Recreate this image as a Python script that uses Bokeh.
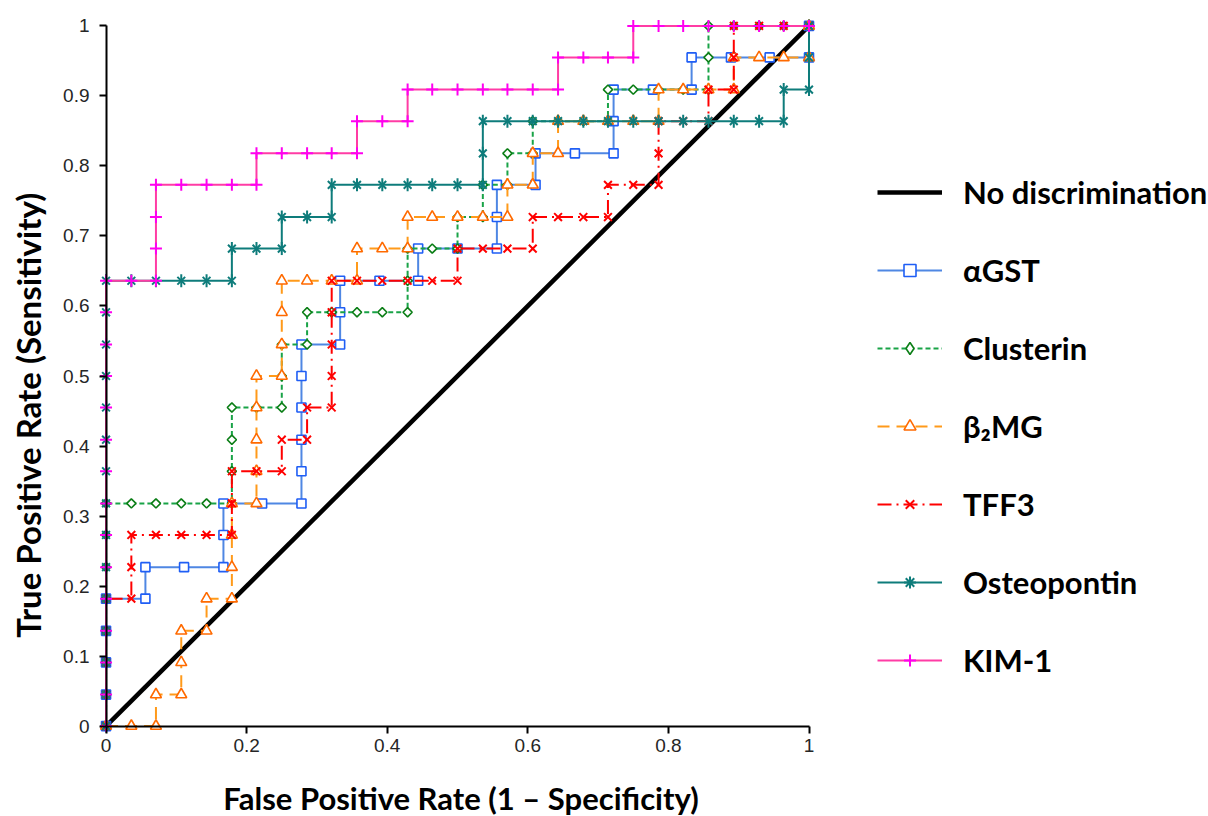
import math
from bokeh.plotting import figure
from bokeh.models import Range1d, FixedTicker, Label, Legend, LegendItem, LinearAxis
from bokeh.embed import file_html
from bokeh.resources import INLINE

# ---------------- data ----------------
diag_x = [0, 1]
diag_y = [0, 1]

agst_fpr = [0, 0, 0, 0, 0, 0.056, 0.056, 0.111, 0.167, 0.167, 0.167, 0.222, 0.278,
            0.278, 0.278, 0.278, 0.278, 0.278, 0.333, 0.333, 0.333, 0.389, 0.444,
            0.444, 0.5, 0.556, 0.556, 0.556, 0.611, 0.611, 0.667, 0.722, 0.722, 0.722,
            0.778, 0.833, 0.833, 0.889, 0.944, 1, 1]
agst_tpr = [0, 0.045, 0.091, 0.136, 0.182, 0.182, 0.227, 0.227, 0.227, 0.273, 0.318,
            0.318, 0.318, 0.364, 0.409, 0.455, 0.5, 0.545, 0.545, 0.591, 0.636, 0.636,
            0.636, 0.682, 0.682, 0.682, 0.727, 0.773, 0.773, 0.818, 0.818, 0.818, 0.864,
            0.909, 0.909, 0.909, 0.955, 0.955, 0.955, 0.955, 1]

clus_fpr = [0, 0, 0, 0, 0, 0, 0, 0, 0.036, 0.071, 0.107, 0.143, 0.179, 0.179, 0.179,
            0.179, 0.214, 0.25, 0.25, 0.25, 0.286, 0.286, 0.321, 0.357, 0.393, 0.429,
            0.429, 0.429, 0.464, 0.5, 0.5, 0.536, 0.536, 0.571, 0.571, 0.607, 0.607,
            0.643, 0.679, 0.714, 0.714, 0.75, 0.786, 0.821, 0.857, 0.857, 0.857, 0.893,
            0.929, 0.964, 1]
clus_tpr = [0, 0.045, 0.091, 0.136, 0.182, 0.227, 0.273, 0.318, 0.318, 0.318, 0.318,
            0.318, 0.318, 0.364, 0.409, 0.455, 0.455, 0.455, 0.5, 0.545, 0.545, 0.591,
            0.591, 0.591, 0.591, 0.591, 0.636, 0.682, 0.682, 0.682, 0.727, 0.727, 0.773,
            0.773, 0.818, 0.818, 0.864, 0.864, 0.864, 0.864, 0.909, 0.909, 0.909, 0.909,
            0.909, 0.955, 1, 1, 1, 1, 1]

b2mg_fpr = [0, 0.036, 0.071, 0.071, 0.107, 0.107, 0.107, 0.143, 0.143, 0.179, 0.179,
            0.179, 0.179, 0.214, 0.214, 0.214, 0.214, 0.214, 0.25, 0.25, 0.25, 0.25,
            0.286, 0.321, 0.357, 0.357, 0.393, 0.429, 0.429, 0.464, 0.5, 0.536, 0.571,
            0.571, 0.607, 0.607, 0.643, 0.643, 0.679, 0.714, 0.75, 0.786, 0.786, 0.821,
            0.857, 0.893, 0.893, 0.929, 0.964, 1, 1]
b2mg_tpr = [0, 0, 0, 0.045, 0.045, 0.091, 0.136, 0.136, 0.182, 0.182, 0.227, 0.273,
            0.318, 0.318, 0.364, 0.409, 0.455, 0.5, 0.5, 0.545, 0.591, 0.636, 0.636,
            0.636, 0.636, 0.682, 0.682, 0.682, 0.727, 0.727, 0.727, 0.727, 0.727, 0.773,
            0.773, 0.818, 0.818, 0.864, 0.864, 0.864, 0.864, 0.864, 0.909, 0.909, 0.909,
            0.909, 0.955, 0.955, 0.955, 0.955, 1]

tff3_fpr = [0, 0, 0, 0, 0, 0.036, 0.036, 0.036, 0.071, 0.107, 0.143, 0.179, 0.179,
            0.179, 0.214, 0.25, 0.25, 0.286, 0.286, 0.321, 0.321, 0.321, 0.321, 0.321,
            0.357, 0.393, 0.429, 0.464, 0.5, 0.5, 0.536, 0.571, 0.607, 0.607, 0.643,
            0.679, 0.714, 0.714, 0.75, 0.786, 0.786, 0.786, 0.821, 0.857, 0.857, 0.893,
            0.893, 0.893, 0.929, 0.964, 1]
tff3_tpr = [0, 0.045, 0.091, 0.136, 0.182, 0.182, 0.227, 0.273, 0.273, 0.273, 0.273,
            0.273, 0.318, 0.364, 0.364, 0.364, 0.409, 0.409, 0.455, 0.455, 0.5, 0.545,
            0.591, 0.636, 0.636, 0.636, 0.636, 0.636, 0.636, 0.682, 0.682, 0.682, 0.682,
            0.727, 0.727, 0.727, 0.727, 0.773, 0.773, 0.773, 0.818, 0.864, 0.864, 0.864,
            0.909, 0.909, 0.955, 1, 1, 1, 1]

opn_fpr = [0, 0, 0, 0, 0, 0, 0, 0, 0, 0, 0, 0, 0, 0, 0, 0.036, 0.071, 0.107, 0.143,
           0.179, 0.179, 0.214, 0.25, 0.25, 0.286, 0.321, 0.321, 0.357, 0.393, 0.429,
           0.464, 0.5, 0.536, 0.536, 0.536, 0.571, 0.607, 0.643, 0.679, 0.714, 0.75,
           0.786, 0.821, 0.857, 0.893, 0.929, 0.964, 0.964, 1, 1, 1]
opn_tpr = [0, 0.045, 0.091, 0.136, 0.182, 0.227, 0.273, 0.318, 0.364, 0.409, 0.455,
           0.5, 0.545, 0.591, 0.636, 0.636, 0.636, 0.636, 0.636, 0.636, 0.682, 0.682,
           0.682, 0.727, 0.727, 0.727, 0.773, 0.773, 0.773, 0.773, 0.773, 0.773, 0.773,
           0.818, 0.864, 0.864, 0.864, 0.864, 0.864, 0.864, 0.864, 0.864, 0.864, 0.864,
           0.864, 0.864, 0.864, 0.909, 0.909, 0.955, 1]

kim_fpr = [0, 0, 0, 0, 0, 0, 0, 0, 0, 0, 0, 0, 0, 0, 0, 0.036, 0.071, 0.071, 0.071,
           0.071, 0.107, 0.143, 0.179, 0.214, 0.214, 0.25, 0.286, 0.321, 0.357, 0.357,
           0.393, 0.429, 0.429, 0.464, 0.5, 0.536, 0.571, 0.607, 0.643, 0.643, 0.679,
           0.714, 0.75, 0.75, 0.786, 0.821, 0.857, 0.893, 0.929, 0.964, 1]
kim_tpr = [0, 0.045, 0.091, 0.136, 0.182, 0.227, 0.273, 0.318, 0.364, 0.409, 0.455,
           0.5, 0.545, 0.591, 0.636, 0.636, 0.636, 0.682, 0.727, 0.773, 0.773, 0.773,
           0.773, 0.773, 0.818, 0.818, 0.818, 0.818, 0.818, 0.864, 0.864, 0.864, 0.909,
           0.909, 0.909, 0.909, 0.909, 0.909, 0.909, 0.955, 0.955, 0.955, 0.955, 1, 1,
           1, 1, 1, 1, 1, 1]

y_ticks = [0, 0.1, 0.2, 0.3, 0.4, 0.5, 0.6, 0.7, 0.8, 0.9, 1]
y_tick_labels = ["0", "0.1", "0.2", "0.3", "0.4", "0.5", "0.6", "0.7", "0.8", "0.9", "1"]
x_ticks = [0, 0.2, 0.4, 0.6, 0.8, 1]
x_tick_labels = ["0", "0.2", "0.4", "0.6", "0.8", "1"]

legend_labels = ["No discrimination", "αGST", "Clusterin", "β₂MG", "TFF3",
                 "Osteopontin", "KIM-1"]
x_title = "False Positive Rate (1 – Specificity)"
y_title = "True Positive Rate (Sensitivity)"

# ---------------- figure ----------------
# the frame runs to the right edge so that the legend sits inside it
p = figure(frame_width=1113, frame_height=717,
           min_border_left=95, min_border_right=0, min_border_top=17,
           min_border_bottom=82,
           x_range=Range1d(-0.015, 1.5683), y_range=Range1d(-0.012, 1.012),
           output_backend="svg", toolbar_location=None)
p.outline_line_color = None
p.grid.visible = False
p.background_fill_color = "white"
p.border_fill_color = "white"

# axes at the frame edge: tick labels only
for ax, ticks, labels in ((p.xaxis[0], x_ticks, x_tick_labels),
                          (p.yaxis[0], y_ticks, y_tick_labels)):
    ax.ticker = FixedTicker(ticks=ticks)
    ax.major_label_overrides = {t: l for t, l in zip(ticks, labels)}
    ax.axis_line_color = None
    ax.major_tick_line_color = None
    ax.major_tick_out = 0
    ax.major_tick_in = 0
    ax.minor_tick_line_color = None
    ax.major_label_text_font = "Liberation Sans"
    ax.major_label_text_font_size = "19px"
    ax.major_label_text_color = "#262626"
p.yaxis[0].major_label_standoff = 6
p.xaxis[0].major_label_standoff = 4

# axes fixed at the data origin: axis lines and ticks only
for side, ticks, t_in, t_out in (("above", x_ticks, 7, 0), ("left", y_ticks, 0, 7)):
    ax = LinearAxis(ticker=FixedTicker(ticks=ticks), fixed_location=0, bounds=(0, 1),
                    axis_line_color="black", axis_line_width=2,
                    major_tick_line_color="black", major_tick_line_width=2,
                    major_tick_in=t_in, major_tick_out=t_out,
                    minor_tick_line_color=None,
                    major_label_text_color=None, major_label_text_font_size="1px",
                    major_label_standoff=0)
    p.add_layout(ax, side)

# ---------------- series ----------------
BLUE_L, BLUE_M = "#4F87E3", "#1F5EF5"
GREEN_L, GREEN_M = "#19A347", "#0B7E16"
ORANGE_L, ORANGE_M = "#FF9A1A", "#FF6A00"
RED = "#FF0000"
TEAL = "#0E7C7B"
PINK_L, PINK_M = "#FF3CA5", "#FF00F0"

p.line(diag_x, diag_y, line_color="black", line_width=4.5)

p.line(agst_fpr, agst_tpr, line_color=BLUE_L, line_width=2)
p.scatter(agst_fpr, agst_tpr, marker="square", size=9, line_color=BLUE_M,
          fill_color="white", line_width=1.6)

p.line(clus_fpr, clus_tpr, line_color=GREEN_L, line_width=2, line_dash="5 3")
p.scatter(clus_fpr, clus_tpr, marker="square", angle=math.pi / 4, size=6.5,
          line_color=GREEN_M, fill_color="white", line_width=1.6)

p.line(b2mg_fpr, b2mg_tpr, line_color=ORANGE_L, line_width=2, line_dash="12 7")
p.scatter(b2mg_fpr, b2mg_tpr, marker="triangle", size=11, line_color=ORANGE_M,
          fill_color="white", line_width=1.6)

p.line(tff3_fpr, tff3_tpr, line_color=RED, line_width=2, line_dash="14 5 2 5")
p.scatter(tff3_fpr, tff3_tpr, marker="x", size=11, line_color=RED, line_width=2)

p.line(opn_fpr, opn_tpr, line_color=TEAL, line_width=2)
p.scatter(opn_fpr, opn_tpr, marker="x", size=11, line_color=TEAL, line_width=2)
p.scatter(opn_fpr, opn_tpr, marker="dash", angle=math.pi / 2, size=13,
          line_color=TEAL, line_width=2)

p.line(kim_fpr, kim_tpr, line_color=PINK_L, line_width=2)
p.scatter(kim_fpr, kim_tpr, marker="cross", size=12, line_color=PINK_M, line_width=2)

# ---------------- legend (legend-only glyphs holding a single NaN point) ----------------
N = [float("nan")]
lg = [
    [p.line(N, N, line_color="black", line_width=4.5)],
    [p.line(N, N, line_color=BLUE_L, line_width=2),
     p.scatter(N, N, marker="square", line_color=BLUE_M, fill_color="white", line_width=1.6)],
    [p.line(N, N, line_color=GREEN_L, line_width=2, line_dash="5 3"),
     p.scatter(N, N, marker="diamond", line_color=GREEN_M, fill_color="white", line_width=1.6)],
    [p.line(N, N, line_color=ORANGE_L, line_width=2, line_dash="12 7"),
     p.scatter(N, N, marker="triangle", line_color=ORANGE_M, fill_color="white", line_width=1.6)],
    [p.line(N, N, line_color=RED, line_width=2, line_dash="14 5 2 5"),
     p.scatter(N, N, marker="x", line_color=RED, line_width=2)],
    [p.line(N, N, line_color=TEAL, line_width=2),
     p.scatter(N, N, marker="asterisk", line_color=TEAL, line_width=2)],
    [p.line(N, N, line_color=PINK_L, line_width=2),
     p.scatter(N, N, marker="cross", line_color=PINK_M, line_width=2)],
]
legend = Legend(items=[LegendItem(label=l, renderers=r) for l, r in zip(legend_labels, lg)],
                location=(782, 55), orientation="vertical",
                glyph_width=65, glyph_height=30, label_height=38, label_standoff=21,
                spacing=40, padding=0, margin=0,
                border_line_color=None, background_fill_alpha=0,
                label_text_font="Lato", label_text_font_style="bold",
                label_text_font_size="31px", label_text_color="black")
p.add_layout(legend, "center")

# ---------------- axis titles (placed through the data scales) ----------------
p.add_layout(Label(x=-0.1117, y=0.4440, text=y_title, angle=math.pi / 2,
                   text_align="center", text_baseline="middle",
                   text_font="Lato", text_font_style="bold", text_font_size="33px",
                   text_color="black"), "left")
p.add_layout(Label(x=0.505, y=-0.102, text=x_title,
                   text_align="center", text_baseline="middle",
                   text_font="Lato", text_font_style="bold", text_font_size="31px",
                   text_color="black"), "below")

open("out.html", "w").write(file_html(p, INLINE))
